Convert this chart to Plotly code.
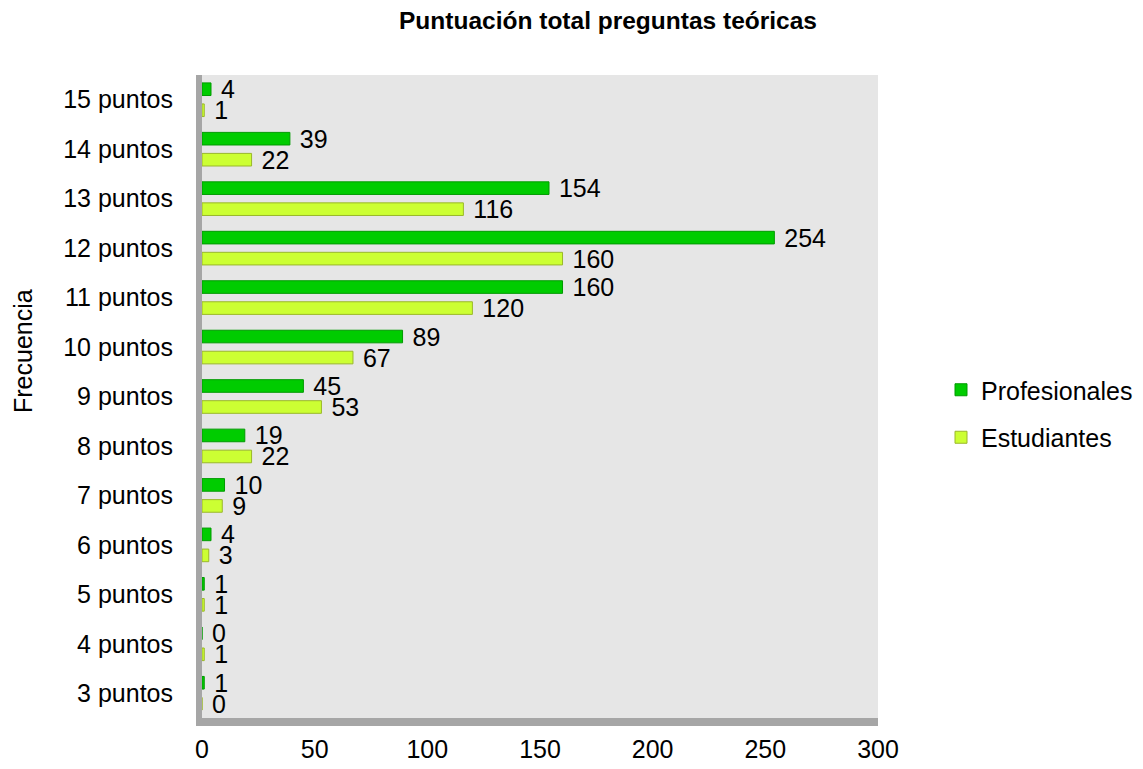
import plotly.graph_objects as go

categorias = ["3 puntos", "4 puntos", "5 puntos", "6 puntos", "7 puntos", "8 puntos",
              "9 puntos", "10 puntos", "11 puntos", "12 puntos", "13 puntos", "14 puntos", "15 puntos"]
profesionales = [1, 0, 1, 4, 10, 19, 45, 89, 160, 254, 154, 39, 4]
estudiantes = [0, 1, 1, 3, 9, 22, 53, 67, 120, 160, 116, 22, 1]
x_ticks = [0, 50, 100, 150, 200, 250, 300]

FONT = "Liberation Sans, Arial, sans-serif"
FS = 25
TXT = dict(size=FS, color="black", family=FONT)

fig = go.Figure()
fig.add_trace(go.Bar(
    y=categorias, x=estudiantes, orientation="h", name="Estudiantes",
    marker=dict(color="#ccff33", line=dict(color="#9ab82a", width=1)),
    text=[str(v) for v in estudiantes], texttemplate=" %{text}", textposition="outside",
    textfont=TXT, outsidetextfont=TXT, constraintext="none", cliponaxis=False,
    legendrank=2, legendgroup="e",
))
fig.add_trace(go.Bar(
    y=categorias, x=profesionales, orientation="h", name="Profesionales",
    marker=dict(color="#00cc00", line=dict(color="#009a00", width=1)),
    text=[str(v) for v in profesionales], texttemplate=" %{text}", textposition="outside",
    textfont=TXT, outsidetextfont=TXT, constraintext="none", cliponaxis=False,
    legendrank=1, legendgroup="p",
))

# the page body adds an 8px offset, so the figure is laid out 8px smaller
W, H = 1135, 761
L, R, T, B = 194, 265, 67, 51
pw = W - L - R
ph = H - T - B

shapes = [
    # left wall
    dict(type="rect", xref="paper", yref="paper", x0=-6 / pw, x1=0, y0=-8 / ph, y1=1.0,
         fillcolor="#a6a6a6", line=dict(width=0), layer="below"),
    # floor
    dict(type="rect", xref="paper", yref="paper", x0=-6 / pw, x1=1.0, y0=-8 / ph, y1=0,
         fillcolor="#a6a6a6", line=dict(width=0), layer="below"),
]

annotations = [
    dict(text="Frecuencia", textangle=-90, xref="paper", yref="paper",
         x=(15 - L) / pw, y=(H - B - 343) / ph, xanchor="center", yanchor="middle",
         showarrow=False, font=TXT),
]

fig.update_layout(
    width=W, height=H,
    margin=dict(l=L, r=R, t=T, b=B, autoexpand=False),
    paper_bgcolor="white",
    plot_bgcolor="#e6e6e6",
    barmode="group",
    bargap=0.15,
    bargroupgap=0.4,
    font=dict(family=FONT, size=FS, color="black"),
    title=dict(text="<b>Puntuación total preguntas teóricas</b>", x=600 / W, xanchor="center",
               xref="container", yref="container",
               y=1 - 12 / H, yanchor="middle", font=dict(size=24.5, family=FONT, color="black")),
    xaxis=dict(range=[0, 300], tickvals=x_ticks, showgrid=False, zeroline=False,
               showline=False, ticks="", ticklabelstandoff=14, automargin=False,
               tickfont=TXT),
    yaxis=dict(categoryorder="array", categoryarray=categorias, showgrid=False,
               zeroline=False, showline=False, ticks="", ticklabelstandoff=28, automargin=False,
               tickfont=TXT),
    legend=dict(x=(933 - L) / pw, y=(H - B - 405.5) / ph, xanchor="left", yanchor="middle",
                traceorder="grouped", tracegroupgap=12,
                font=TXT, bgcolor="rgba(0,0,0,0)", itemwidth=30),
    shapes=shapes,
    annotations=annotations,
    showlegend=True,
)

fig.write_html("out.html")
